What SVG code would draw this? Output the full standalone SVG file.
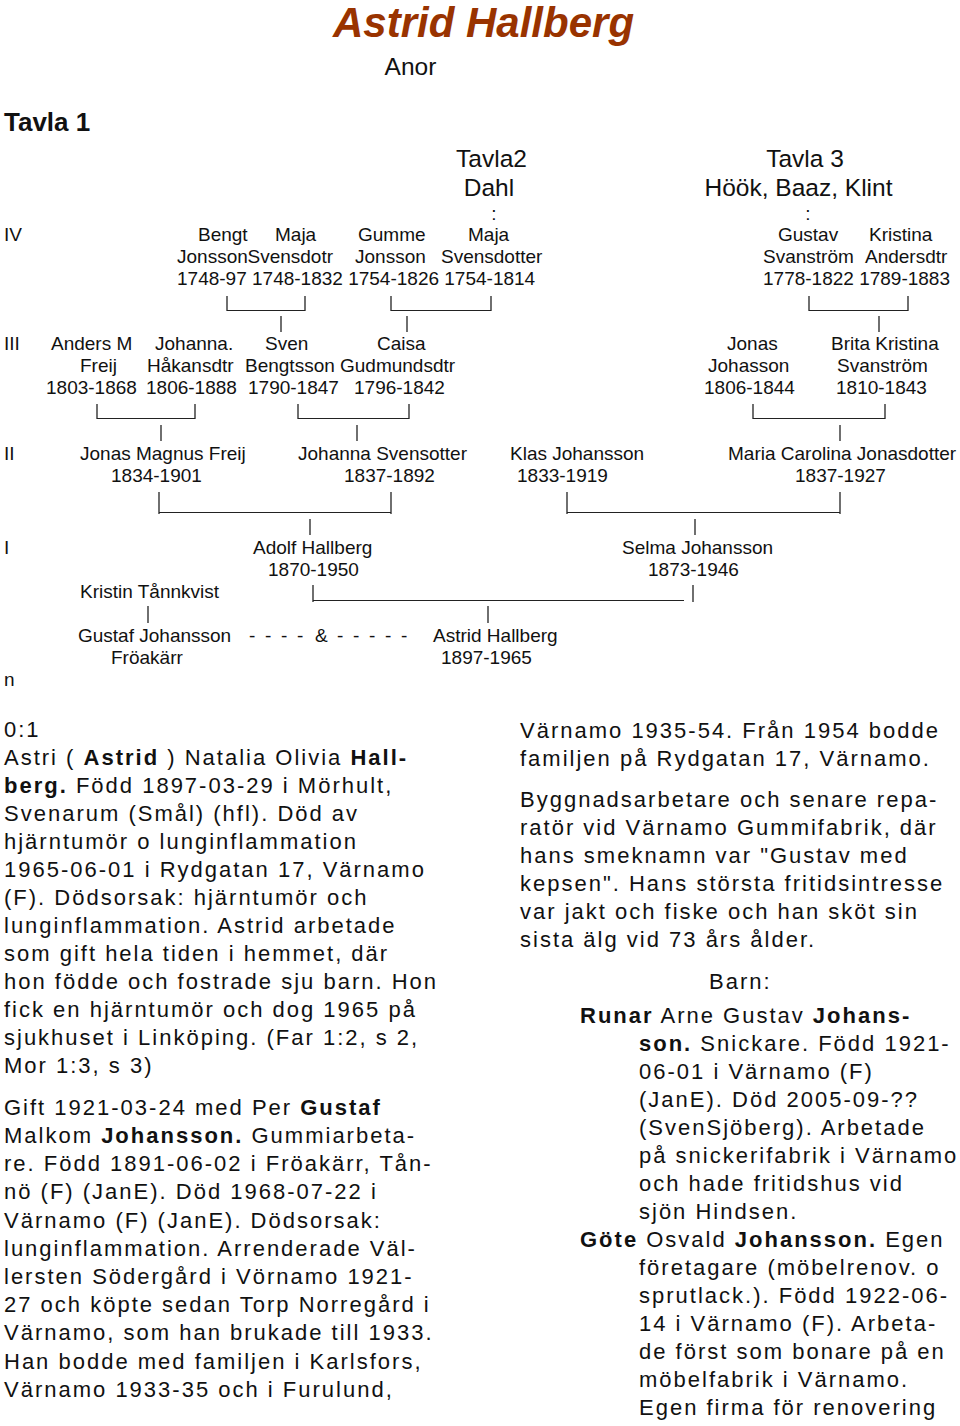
<svg xmlns="http://www.w3.org/2000/svg" width="960" height="1426" viewBox="0 0 960 1426">
<style>
  .bg{fill:#ffffff}
  .t{font-family:"Liberation Sans",Arial,sans-serif;font-size:19px;fill:#111}
  .h{font-family:"Liberation Sans",Arial,sans-serif;font-size:24.5px;fill:#111}
  .title{font-family:"Liberation Sans",Arial,sans-serif;font-size:42px;font-weight:bold;font-style:italic;fill:#993300}
  .tv{font-family:"Liberation Sans",Arial,sans-serif;font-size:26px;font-weight:bold;fill:#111}
  .b{font-family:"Liberation Sans",Arial,sans-serif;font-size:22px;letter-spacing:2px;fill:#111}
  .bd{font-weight:bold}
  .c line{stroke:#222;stroke-width:1.3;fill:none}
  .c line.u{stroke-width:1}
</style>
<rect class="bg" x="0" y="0" width="960" height="1426"/>

<g id="header">
  <text class="title" x="333" y="37">Astrid Hallberg</text>
  <text class="h" x="410.5" y="75" text-anchor="middle">Anor</text>
  <text class="tv" x="4" y="131">Tavla 1</text>
  <text class="h" x="491.5" y="167" text-anchor="middle">Tavla2</text>
  <text class="h" x="489" y="196" text-anchor="middle">Dahl</text>
  <text class="t" x="494" y="220" text-anchor="middle">:</text>
  <text class="h" x="805" y="167" text-anchor="middle">Tavla 3</text>
  <text class="h" x="798.5" y="196" text-anchor="middle">Höök, Baaz, Klint</text>
  <text class="t" x="808" y="220" text-anchor="middle">:</text>
</g>

<g id="generations">
  <text class="t" x="4" y="241">IV</text>
  <text class="t" x="4" y="350">III</text>
  <text class="t" x="4" y="460">II</text>
  <text class="t" x="4" y="554">I</text>
  <text class="t" x="4" y="686">n</text>
</g>

<g id="gen4-dates">
  <text class="t" x="177" y="285">1748-97 1748-1832 1754-1826 1754-1814</text>
  <text class="t" x="763" y="285">1778-1822 1789-1883</text>
</g>

<g id="bengt-jonsson">
  <text class="t" x="198" y="241">Bengt</text>
  <text class="t" x="177" y="263">Jonsson</text>
</g>
<g id="maja-svensdotr">
  <text class="t" x="275" y="241">Maja</text>
  <text class="t" x="247.5" y="263">Svensdotr</text>
</g>
<g id="gumme-jonsson">
  <text class="t" x="358" y="241">Gumme</text>
  <text class="t" x="355" y="263">Jonsson</text>
</g>
<g id="maja-svensdotter">
  <text class="t" x="468" y="241">Maja</text>
  <text class="t" x="441" y="263">Svensdotter</text>
</g>
<g id="gustav-svanstrom">
  <text class="t" x="778" y="241">Gustav</text>
  <text class="t" x="763" y="263">Svanström</text>
</g>
<g id="kristina-andersdtr">
  <text class="t" x="869" y="241">Kristina</text>
  <text class="t" x="865" y="263">Andersdtr</text>
</g>

<g id="anders-freij">
  <text class="t" x="51" y="350">Anders M</text>
  <text class="t" x="80" y="372">Freij</text>
  <text class="t" x="46" y="394">1803-1868</text>
</g>
<g id="johanna-hakansdtr">
  <text class="t" x="155" y="350">Johanna.</text>
  <text class="t" x="147" y="372">Håkansdtr</text>
  <text class="t" x="146" y="394">1806-1888</text>
</g>
<g id="sven-bengtsson">
  <text class="t" x="265" y="350">Sven</text>
  <text class="t" x="245" y="372">Bengtsson</text>
  <text class="t" x="248" y="394">1790-1847</text>
</g>
<g id="caisa-gudmundsdtr">
  <text class="t" x="377" y="350">Caisa</text>
  <text class="t" x="340" y="372">Gudmundsdtr</text>
  <text class="t" x="354" y="394">1796-1842</text>
</g>
<g id="jonas-johasson">
  <text class="t" x="727" y="350">Jonas</text>
  <text class="t" x="708" y="372">Johasson</text>
  <text class="t" x="704" y="394">1806-1844</text>
</g>
<g id="brita-svanstrom">
  <text class="t" x="831" y="350">Brita Kristina</text>
  <text class="t" x="837" y="372">Svanström</text>
  <text class="t" x="836" y="394">1810-1843</text>
</g>

<g id="jonas-magnus-freij">
  <text class="t" x="80" y="460">Jonas Magnus Freij</text>
  <text class="t" x="111" y="482">1834-1901</text>
</g>
<g id="johanna-svensotter">
  <text class="t" x="298" y="460">Johanna Svensotter</text>
  <text class="t" x="344" y="482">1837-1892</text>
</g>
<g id="klas-johansson">
  <text class="t" x="510" y="460">Klas Johansson</text>
  <text class="t" x="517" y="482">1833-1919</text>
</g>
<g id="maria-jonasdotter">
  <text class="t" x="728" y="460">Maria Carolina Jonasdotter</text>
  <text class="t" x="795" y="482">1837-1927</text>
</g>

<g id="adolf-hallberg">
  <text class="t" x="253" y="554">Adolf Hallberg</text>
  <text class="t" x="268" y="576">1870-1950</text>
</g>
<g id="selma-johansson">
  <text class="t" x="622" y="554">Selma Johansson</text>
  <text class="t" x="648" y="576">1873-1946</text>
</g>
<g id="kristin-tannkvist">
  <text class="t" x="80" y="598">Kristin Tånnkvist</text>
</g>
<g id="gustaf-johansson">
  <text class="t" x="78" y="642">Gustaf Johansson</text>
  <text class="t" x="111" y="664">Fröakärr</text>
</g>
<g id="marriage">
  <text class="t" x="249 265 281 297 315 337 353 369 385 401" y="642">----&amp;-----</text>
</g>
<g id="astrid-hallberg">
  <text class="t" x="433" y="642">Astrid Hallberg</text>
  <text class="t" x="441" y="664">1897-1965</text>
</g>

<g id="connectors" class="c">
  <line x1="227" y1="296" x2="227" y2="311"/><line class="u" x1="227" y1="310.5" x2="305" y2="310.5"/><line x1="305" y1="296" x2="305" y2="311"/>
  <line x1="391" y1="296" x2="391" y2="311"/><line class="u" x1="391" y1="310.5" x2="491" y2="310.5"/><line x1="491" y1="296" x2="491" y2="311"/>
  <line x1="809" y1="296" x2="809" y2="311"/><line class="u" x1="809" y1="310.5" x2="908" y2="310.5"/><line x1="908" y1="296" x2="908" y2="311"/>
  <line x1="281" y1="316" x2="281" y2="332"/>
  <line x1="407" y1="316" x2="407" y2="332"/>
  <line x1="879" y1="316" x2="879" y2="332"/>
  <line x1="97" y1="404" x2="97" y2="419"/><line class="u" x1="97" y1="418.5" x2="195" y2="418.5"/><line x1="195" y1="404" x2="195" y2="419"/>
  <line x1="298" y1="404" x2="298" y2="419"/><line class="u" x1="298" y1="418.5" x2="409" y2="418.5"/><line x1="409" y1="404" x2="409" y2="419"/>
  <line x1="753" y1="404" x2="753" y2="419"/><line class="u" x1="753" y1="418.5" x2="885" y2="418.5"/><line x1="885" y1="404" x2="885" y2="419"/>
  <line x1="161" y1="425" x2="161" y2="441"/>
  <line x1="357" y1="425" x2="357" y2="441"/>
  <line x1="840" y1="425" x2="840" y2="441"/>
  <line x1="159" y1="492" x2="159" y2="514"/><line class="u" x1="159" y1="512.5" x2="391" y2="512.5"/><line x1="391" y1="492" x2="391" y2="514"/>
  <line x1="567" y1="492" x2="567" y2="514"/><line class="u" x1="567" y1="512.5" x2="840" y2="512.5"/><line x1="840" y1="492" x2="840" y2="514"/>
  <line x1="310" y1="519" x2="310" y2="535"/>
  <line x1="695" y1="519" x2="695" y2="535"/>
  <line x1="313" y1="585" x2="313" y2="602"/><line class="u" x1="313" y1="600.5" x2="684" y2="600.5"/><line x1="693" y1="585" x2="693" y2="602"/>
  <line x1="148" y1="606" x2="148" y2="623"/>
  <line x1="488" y1="606" x2="488" y2="623"/>
</g>

<g id="text-astrid">
  <text class="b" x="4" y="737">0:1</text>
  <text class="b" x="4" y="765">Astri ( <tspan class="bd">Astrid</tspan> ) Natalia Olivia <tspan class="bd">Hall-</tspan></text>
  <text class="b" x="4" y="793"><tspan class="bd">berg.</tspan> Född 1897-03-29 i Mörhult,</text>
  <text class="b" x="4" y="821">Svenarum (Smål) (hfl). Död av</text>
  <text class="b" x="4" y="849">hjärntumör o lunginflammation</text>
  <text class="b" x="4" y="877">1965-06-01 i Rydgatan 17, Värnamo</text>
  <text class="b" x="4" y="905">(F). Dödsorsak: hjärntumör och</text>
  <text class="b" x="4" y="933">lunginflammation. Astrid arbetade</text>
  <text class="b" x="4" y="961">som gift hela tiden i hemmet, där</text>
  <text class="b" x="4" y="989">hon födde och fostrade sju barn. Hon</text>
  <text class="b" x="4" y="1017">fick en hjärntumör och dog 1965 på</text>
  <text class="b" x="4" y="1045">sjukhuset i Linköping. (Far 1:2, s 2,</text>
  <text class="b" x="4" y="1073">Mor 1:3, s 3)</text>
</g>

<g id="text-gustaf">
  <text class="b" x="4" y="1115">Gift 1921-03-24 med Per <tspan class="bd">Gustaf</tspan></text>
  <text class="b" x="4" y="1143">Malkom <tspan class="bd">Johansson.</tspan> Gummiarbeta-</text>
  <text class="b" x="4" y="1171">re. Född 1891-06-02 i Fröakärr, Tån-</text>
  <text class="b" x="4" y="1199">nö (F) (JanE). Död 1968-07-22 i</text>
  <text class="b" x="4" y="1228">Värnamo (F) (JanE). Dödsorsak:</text>
  <text class="b" x="4" y="1256">lunginflammation. Arrenderade Väl-</text>
  <text class="b" x="4" y="1284">lersten Södergård i Vörnamo 1921-</text>
  <text class="b" x="4" y="1312">27 och köpte sedan Torp Norregård i</text>
  <text class="b" x="4" y="1340">Värnamo, som han brukade till 1933.</text>
  <text class="b" x="4" y="1369">Han bodde med familjen i Karlsfors,</text>
  <text class="b" x="4" y="1397">Värnamo 1933-35 och i Furulund,</text>
  <text class="b" x="520" y="738">Värnamo 1935-54. Från 1954 bodde</text>
  <text class="b" x="520" y="766">familjen på Rydgatan 17, Värnamo.</text>
  <text class="b" x="520" y="807">Byggnadsarbetare och senare repa-</text>
  <text class="b" x="520" y="835">ratör vid Värnamo Gummifabrik, där</text>
  <text class="b" x="520" y="863">hans smeknamn var "Gustav med</text>
  <text class="b" x="520" y="891">kepsen". Hans största fritidsintresse</text>
  <text class="b" x="520" y="919">var jakt och fiske och han sköt sin</text>
  <text class="b" x="520" y="947">sista älg vid 73 års ålder.</text>
</g>

<g id="text-barn">
  <text class="b" x="709" y="989">Barn:</text>
  <text class="b" x="580" y="1023"><tspan class="bd">Runar</tspan> Arne Gustav <tspan class="bd">Johans-</tspan></text>
  <text class="b" x="639" y="1051"><tspan class="bd">son.</tspan> Snickare. Född 1921-</text>
  <text class="b" x="639" y="1079">06-01 i Värnamo (F)</text>
  <text class="b" x="639" y="1107">(JanE). Död 2005-09-??</text>
  <text class="b" x="639" y="1135">(SvenSjöberg). Arbetade</text>
  <text class="b" x="639" y="1163">på snickerifabrik i Värnamo</text>
  <text class="b" x="639" y="1191">och hade fritidshus vid</text>
  <text class="b" x="639" y="1219">sjön Hindsen.</text>
  <text class="b" x="580" y="1247"><tspan class="bd">Göte</tspan> Osvald <tspan class="bd">Johansson.</tspan> Egen</text>
  <text class="b" x="639" y="1275">företagare (möbelrenov. o</text>
  <text class="b" x="639" y="1303">sprutlack.). Född 1922-06-</text>
  <text class="b" x="639" y="1331">14 i Värnamo (F). Arbeta-</text>
  <text class="b" x="639" y="1359">de först som bonare på en</text>
  <text class="b" x="639" y="1387">möbelfabrik i Värnamo.</text>
  <text class="b" x="639" y="1415">Egen firma för renovering</text>
</g>
</svg>
